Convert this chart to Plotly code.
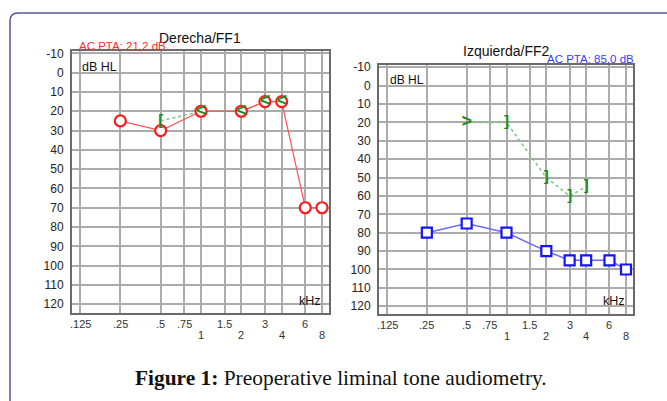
import numpy as np
import plotly.graph_objects as go

W, H = 667, 401

# ---------------- data ----------------
freq_ticks = [0.125, 0.25, 0.5, 0.75, 1, 1.5, 2, 3, 4, 6, 8]
upper_freqs = [0.125, 0.25, 0.5, 0.75, 1.5, 3, 6]
upper_labels = [".125", ".25", ".5", ".75", "1.5", "3", "6"]
lower_freqs = [1, 2, 4, 8]
lower_labels = ["1", "2", "4", "8"]
db_ticks = list(range(-10, 121, 10))
db_labels = [str(v) for v in db_ticks]

right_ac_freq = [0.25, 0.5, 1, 2, 3, 4, 6, 8]
right_ac_db = [25, 30, 20, 20, 15, 15, 70, 70]
right_bc_freq = [0.5, 1, 2, 3, 4]
right_bc_db = [25, 20, 20, 15, 15]
right_bc_sym = ["[", "<", "<", "<", "<"]

left_ac_freq = [0.25, 0.5, 1, 2, 3, 4, 6, 8]
left_ac_db = [80, 75, 80, 90, 95, 95, 95, 100]
left_bc_freq = [0.5, 1, 2, 3, 4]
left_bc_db = [20, 20, 50, 60, 55]
left_bc_sym = [">", "]", "]", "]", "]"]

# ---------------- helpers ----------------
def px(x):
    return x / W

def py(y):
    return 1 - y / H

FONT = "Liberation Sans, Arial, sans-serif"
GREEN = "#1e8c1e"
GRID = "#ababab"
BORDER = "#6a6a6a"

def sym_sizes(syms):
    return [18 if s in "<>" else 15 for s in syms]

fig = go.Figure()

# Right ear (left panel)
fig.add_trace(go.Scatter(x=right_bc_freq, y=right_bc_db, mode="lines",
                         line=dict(color="#7cc47c", width=1.5, dash="dot"),
                         xaxis="x", yaxis="y", hoverinfo="skip"))
fig.add_trace(go.Scatter(x=right_ac_freq, y=right_ac_db, mode="lines+markers",
                         line=dict(color="#ff5050", width=1.2),
                         marker=dict(symbol="circle", size=11, color="white",
                                     line=dict(color="#ff1a1a", width=2.2)),
                         xaxis="x", yaxis="y"))
fig.add_trace(go.Scatter(x=right_bc_freq, y=right_bc_db, mode="text",
                         text=right_bc_sym, texttemplate="<b>%{text}</b>",
                         textposition="middle center",
                         textfont=dict(color=GREEN, size=sym_sizes(right_bc_sym), family=FONT),
                         xaxis="x", yaxis="y"))

# Left ear (right panel)
fig.add_trace(go.Scatter(x=left_bc_freq, y=left_bc_db, mode="lines",
                         line=dict(color="#7cc47c", width=1.5, dash="dot"),
                         xaxis="x2", yaxis="y2", hoverinfo="skip"))
fig.add_trace(go.Scatter(x=left_ac_freq, y=left_ac_db, mode="lines+markers",
                         line=dict(color="#6a6aff", width=1.5),
                         marker=dict(symbol="square", size=10, color="white",
                                     line=dict(color="#1414ff", width=2.2)),
                         xaxis="x2", yaxis="y2"))
fig.add_trace(go.Scatter(x=left_bc_freq, y=left_bc_db, mode="text",
                         text=left_bc_sym, texttemplate="<b>%{text}</b>",
                         textposition="middle center",
                         textfont=dict(color=GREEN, size=sym_sizes(left_bc_sym), family=FONT),
                         xaxis="x2", yaxis="y2"))

xcommon = dict(type="log", tickvals=freq_ticks, showticklabels=False, ticks="",
               showgrid=True, gridcolor=GRID, gridwidth=1.5, zeroline=False,
               showline=True, mirror=True, linecolor=BORDER, linewidth=2)
ycommon = dict(tickvals=db_ticks, ticktext=db_labels, ticks="",
               tickfont=dict(family=FONT, size=12, color="#222222"),
               ticklabelstandoff=4,
               showgrid=True, gridcolor=GRID, gridwidth=1.5, zeroline=False,
               showline=True, mirror=True, linecolor=BORDER, linewidth=2)

fig.update_layout(
    width=W, height=H, margin=dict(l=0, r=0, t=0, b=0),
    paper_bgcolor="white", plot_bgcolor="white", showlegend=False,
    xaxis=dict(domain=[px(72), px(329)], range=[-0.9628, 0.9553], anchor="y", **xcommon),
    yaxis=dict(domain=[py(312), py(47)], range=[124.6, -11.0], anchor="x", **ycommon),
    xaxis2=dict(domain=[px(379), px(633)], range=[-0.9636, 0.9560], anchor="y2", **xcommon),
    yaxis2=dict(domain=[py(312.7), py(60.7)], range=[124.1, -11.24], anchor="x2", **ycommon),
)

ann = []
def text(x, y, s, size, color="#111111", xanchor="center", xref="paper", family=FONT):
    ann.append(dict(x=x, y=y, xref=xref, yref="paper", text=s, showarrow=False,
                    xanchor=xanchor, yanchor="middle",
                    font=dict(family=family, size=size, color=color)))

# titles
text(px(200), py(33), "Derecha/FF1", 14)
text(px(77), py(41.5), "AC PTA: 21,2 dB", 11.5, "#ff2a2a", xanchor="left")
text(px(506), py(47), "Izquierda/FF2", 14)
text(px(545), py(54.5), "AC PTA: 85,0 dB", 11.5, "#3a3aff", xanchor="left")
# inner labels
text(px(80), py(63), "dB HL", 12.5, xanchor="left")
text(px(388), py(76), "dB HL", 12, xanchor="left")
text(px(310), py(300), "kHz", 12.5)
text(px(614), py(300), "kHz", 12.5)
# frequency labels
for xr, yu, yl in (("x", 323, 334), ("x2", 324, 335)):
    for f, s in zip(upper_freqs, upper_labels):
        text(np.log10(f), py(yu), s, 11, "#333333", xref=xr)
    for f, s in zip(lower_freqs, lower_labels):
        text(np.log10(f), py(yl), s, 11, "#333333", xref=xr)
# caption
text(px(341), py(377.5),
     "<b>Figure 1:</b> Preoperative liminal tone audiometry.", 21.4, "#111111",
     family="Liberation Serif, Times New Roman, serif")

fig.update_layout(annotations=ann)

# frame around figure
r = 8
path = (f"M {px(10)},{py(430)} L {px(10)},{py(8 + r)} "
        f"Q {px(10)},{py(8)} {px(10 + r)},{py(8)} L {px(700)},{py(8)}")
fig.add_shape(type="path", path=path, xref="paper", yref="paper",
              line=dict(color="#55559a", width=1.5))

fig.write_html("out.html", config={"displayModeBar": False},
               post_script="document.body.style.margin='0';document.body.style.padding='0';")
